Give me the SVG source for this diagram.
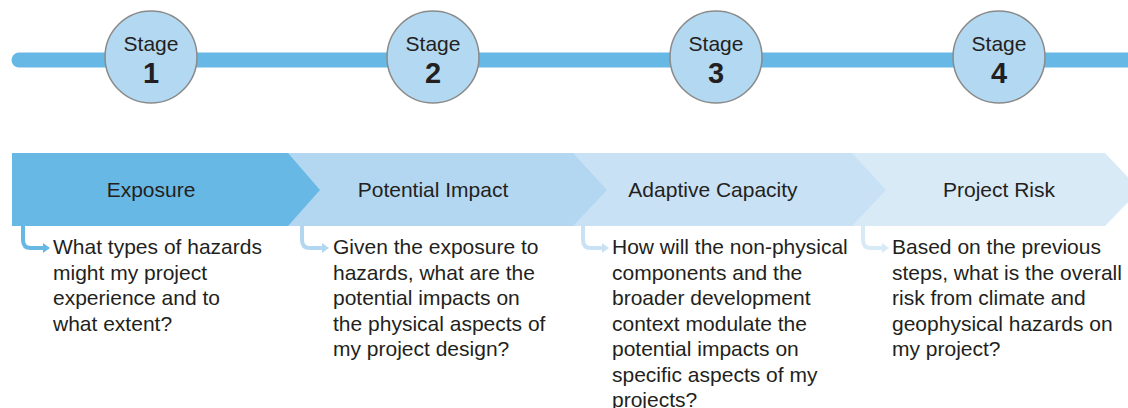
<svg xmlns="http://www.w3.org/2000/svg" width="1128" height="408" viewBox="0 0 1128 408">
<defs>
<style>
text{font-family:"Liberation Sans",Arial,sans-serif;fill:#231f20}
.st{font-size:21px;text-anchor:middle}
.num{font-size:29px;font-weight:bold;text-anchor:middle}
.lab{font-size:21px;text-anchor:middle}
.body{font-size:21px}
.circ{fill:#b3d8f1;stroke:#8a8a8a;stroke-width:1.5}
.arr{fill:none;stroke-width:4;stroke-linejoin:round}
</style>
</defs>
<g id="timeline">
<line x1="19" y1="60" x2="1135" y2="60" stroke="#68b8e5" stroke-width="15" stroke-linecap="round"/>
</g>
<g id="stage1"><circle class="circ" cx="151" cy="57" r="46"/><text class="st" x="151" y="51">Stage</text><text class="num" x="151" y="83">1</text></g>
<g id="stage2"><circle class="circ" cx="433" cy="57" r="46"/><text class="st" x="433" y="51">Stage</text><text class="num" x="433" y="83">2</text></g>
<g id="stage3"><circle class="circ" cx="716" cy="57" r="46"/><text class="st" x="716" y="51">Stage</text><text class="num" x="716" y="83">3</text></g>
<g id="stage4"><circle class="circ" cx="999" cy="57" r="46"/><text class="st" x="999" y="51">Stage</text><text class="num" x="999" y="83">4</text></g>
<g id="risk"><polygon points="852,153 1105,153 1140,190 1105,226 852,226" fill="#d9eaf7"/><text class="lab" x="999" y="197">Project Risk</text></g>
<g id="adaptive"><polygon points="572,153 852,153 886,190 852,226 572,226" fill="#c9e1f4"/><text class="lab" x="713" y="197">Adaptive Capacity</text></g>
<g id="impact"><polygon points="288,153 573,153 607,190 573,226 288,226" fill="#b3d7f0"/><text class="lab" x="433" y="197">Potential Impact</text></g>
<g id="exposure"><polygon points="12,153 288,153 320,190 288,226 12,226" fill="#68b8e5"/><text class="lab" x="151" y="197">Exposure</text></g>
<g id="connectors">
<path class="arr" d="M23,226 V240 Q23,248 31,248 H44" stroke="#68b8e5"/><path d="M43,243 L50,248 L43,253 Z" fill="#68b8e5"/>
<path class="arr" d="M302,226 V240 Q302,248 310,248 H323" stroke="#b3d7f0"/><path d="M322,243 L329,248 L322,253 Z" fill="#b3d7f0"/>
<path class="arr" d="M583,226 V240 Q583,248 591,248 H603" stroke="#c9e1f4"/><path d="M602,243 L609,248 L602,253 Z" fill="#c9e1f4"/>
<path class="arr" d="M863,226 V240 Q863,248 871,248 H883" stroke="#d9eaf7"/><path d="M882,243 L889,248 L882,253 Z" fill="#d9eaf7"/>
</g>
<g id="text1"><text class="body" x="53" y="254">What types of hazards</text><text class="body" x="53" y="280">might my project</text><text class="body" x="53" y="305">experience and to</text><text class="body" x="53" y="331">what extent?</text></g>
<g id="text2"><text class="body" x="333" y="254">Given the exposure to</text><text class="body" x="333" y="280">hazards, what are the</text><text class="body" x="333" y="305">potential impacts on</text><text class="body" x="333" y="331">the physical aspects of</text><text class="body" x="333" y="356">my project design?</text></g>
<g id="text3"><text class="body" x="612" y="254">How will the non-physical</text><text class="body" x="612" y="280">components and the</text><text class="body" x="612" y="305">broader development</text><text class="body" x="612" y="331">context modulate the</text><text class="body" x="612" y="356">potential impacts on</text><text class="body" x="612" y="382">specific aspects of my</text><text class="body" x="612" y="407">projects?</text></g>
<g id="text4"><text class="body" x="892" y="254">Based on the previous</text><text class="body" x="892" y="280">steps, what is the overall</text><text class="body" x="892" y="305">risk from climate and</text><text class="body" x="892" y="331">geophysical hazards on</text><text class="body" x="892" y="356">my project?</text></g>
</svg>
